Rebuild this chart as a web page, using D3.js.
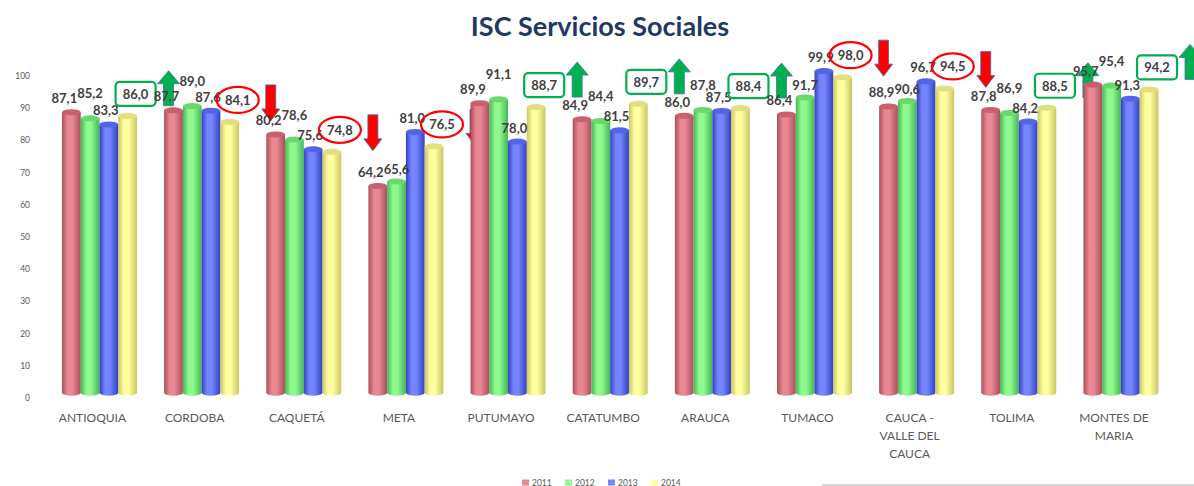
<!DOCTYPE html>
<html>
<head>
<meta charset="utf-8">
<script src="https://cdn.jsdelivr.net/npm/d3@7"></script>
<style>
  body { margin: 0; background: #fff; }
  svg { display: block; font-family: Lato, "Open Sans", sans-serif; }
</style>
</head>
<body>
<div id="grafico"></div>
<script>
const categorias = ["ANTIOQUIA", "CORDOBA", "CAQUETÁ", "META", "PUTUMAYO", "CATATUMBO", "ARAUCA", "TUMACO", "CAUCA - VALLE DEL CAUCA", "TOLIMA", "MONTES DE MARIA"];
const etiquetasCat = [["ANTIOQUIA"], ["CORDOBA"], ["CAQUETÁ"], ["META"], ["PUTUMAYO"], ["CATATUMBO"], ["ARAUCA"], ["TUMACO"], ["CAUCA -", "VALLE DEL", "CAUCA"], ["TOLIMA"], ["MONTES DE", "MARIA"]];
const anios = ["2011", "2012", "2013", "2014"];
const v2011 = [87.1, 87.7, 80.2, 64.2, 89.9, 84.9, 86.0, 86.4, 88.9, 87.8, 95.7];
const v2012 = [85.2, 89.0, 78.6, 65.6, 91.1, 84.4, 87.8, 91.7, 90.6, 86.9, 95.4];
const v2013 = [83.3, 87.6, 75.6, 81.0, 78.0, 81.5, 87.5, 99.9, 96.7, 84.2, 91.3];
const v2014 = [86.0, 84.1, 74.8, 76.5, 88.7, 89.7, 88.4, 98.0, 94.5, 88.5, 94.2];
const ticksY = [0, 10, 20, 30, 40, 50, 60, 70, 80, 90, 100];

const series = [v2011, v2012, v2013, v2014];
const colores = [
  { mid: "#e98793", edge: "#a8505b", top: "#c9606c" },
  { mid: "#8ef98e", edge: "#45b555", top: "#6ad86e" },
  { mid: "#7585ff", edge: "#3342c0", top: "#5464e8" },
  { mid: "#ffffa0", edge: "#c9c662", top: "#e2df80" }
];

const ancho = 1194, alto = 486;
const prof = 5; // desplazamiento 3D de las barras

const svg = d3.select("#grafico").append("svg")
  .attr("width", ancho).attr("height", alto);

// gradientes tipo cilindro
const defs = svg.append("defs");
colores.forEach((c, i) => {
  const g = defs.append("linearGradient").attr("id", "cil" + i)
    .attr("x1", "0%").attr("x2", "100%").attr("y1", "0%").attr("y2", "0%");
  g.append("stop").attr("offset", "0%").attr("stop-color", c.edge);
  g.append("stop").attr("offset", "30%").attr("stop-color", c.mid);
  g.append("stop").attr("offset", "55%").attr("stop-color", c.mid);
  g.append("stop").attr("offset", "100%").attr("stop-color", c.edge);
});

const xScale = d3.scaleBand()
  .domain(categorias)
  .range([48.4, 1172])
  .paddingInner(0.266)
  .paddingOuter(0.133);

const xSub = d3.scaleBand()
  .domain(anios)
  .range([0, xScale.bandwidth()]);

const yScale = d3.scaleLinear()
  .domain([0, 100])
  .range([397.7, 75.7]);

// titulo
svg.append("text")
  .attr("x", 600).attr("y", 36)
  .attr("text-anchor", "middle")
  .attr("font-size", 27).attr("font-weight", "bold")
  .attr("fill", "#1f3864")
  .text("ISC Servicios Sociales");

// eje Y (solo etiquetas)
const yAxis = d3.axisLeft(yScale).tickValues(ticksY).tickSize(0).tickPadding(0);
const gy = svg.append("g").attr("transform", "translate(30,0)").call(yAxis);
gy.select(".domain").remove();
gy.selectAll("text").attr("font-size", 8.5).attr("fill", "#595959")
  .attr("font-family", "Lato, sans-serif");

// barras
const grupos = svg.selectAll("g.grupo")
  .data(categorias)
  .enter().append("g")
  .attr("class", "grupo")
  .attr("transform", d => "translate(" + xScale(d) + "," + (-prof) + ")");

const datosBarras = (cat, ci) => anios.map((a, si) => ({ anio: a, si: si, v: series[si][ci] }));

grupos.each(function (cat, ci) {
  const g = d3.select(this);
  const w = xSub.bandwidth();
  const base = yScale(0);
  const barras = g.selectAll("g.barra").data(datosBarras(cat, ci)).enter()
    .append("g").attr("class", "barra");
  barras.append("ellipse")
    .attr("cx", d => xSub(d.anio) + w / 2).attr("cy", base)
    .attr("rx", w / 2).attr("ry", 3)
    .attr("fill", d => "url(#cil" + d.si + ")");
  barras.append("rect")
    .attr("x", d => xSub(d.anio))
    .attr("y", d => yScale(d.v))
    .attr("width", w)
    .attr("height", d => base - yScale(d.v))
    .attr("fill", d => "url(#cil" + d.si + ")");
  barras.append("ellipse")
    .attr("cx", d => xSub(d.anio) + w / 2).attr("cy", d => yScale(d.v))
    .attr("rx", w / 2).attr("ry", 3)
    .attr("fill", d => colores[d.si].top);
});

const fmt = v => d3.format(".1f")(v).replace(".", ",");

// etiquetas de datos (2011-2013); las de 2012 suben salvo que la de 2013 quede mas alta
const dxEtiqueta = [-7, 0, -3];
grupos.each(function (cat, ci) {
  const g = d3.select(this);
  const dyDe = d => {
    if (d.si !== 1) return -9;
    return (v2013[ci] - v2012[ci] > 4) ? -7 : -20;
  };
  g.selectAll("text.val").data(datosBarras(cat, ci).filter(d => d.si < 3)).enter()
    .append("text").attr("class", "val")
    .attr("x", d => xSub(d.anio) + xSub.bandwidth() / 2 + dxEtiqueta[d.si])
    .attr("y", d => yScale(d.v) + dyDe(d))
    .attr("text-anchor", "middle")
    .attr("font-size", 13).attr("font-weight", "bold")
    .attr("fill", "#404040")
    .text(d => fmt(d.v));
});

// anotaciones 2014: sube (recuadro verde + flecha arriba) o baja (elipse roja + flecha abajo)
grupos.each(function (cat, ci) {
  const g = d3.select(this);
  const v = v2014[ci];
  const sube = v > v2013[ci];
  const cx = xSub("2014") + xSub.bandwidth() / 2 + 8;
  const cy = yScale(v) - 22;
  if (sube) {
    g.append("rect")
      .attr("x", cx - 20).attr("y", cy - 12).attr("width", 40).attr("height", 24)
      .attr("rx", 4).attr("fill", "none")
      .attr("stroke", "#00b050").attr("stroke-width", 2.2);
  } else {
    g.append("ellipse")
      .attr("cx", cx).attr("cy", cy).attr("rx", 21).attr("ry", 13)
      .attr("fill", "none").attr("stroke", "#ff0000").attr("stroke-width", 2.2);
  }
  g.append("text")
    .attr("x", cx).attr("y", cy + 5)
    .attr("text-anchor", "middle")
    .attr("font-size", 13).attr("font-weight", "bold")
    .attr("fill", "#404040")
    .text(fmt(v));

  const ax = cx + 33;
  if (sube) {
    const yb = cy + 12, yt = yb - 35;
    g.append("path")
      .attr("d", `M${ax - 5},${yb} L${ax - 5},${yt + 13} L${ax - 11},${yt + 13} L${ax},${yt} L${ax + 11},${yt + 13} L${ax + 5},${yt + 13} L${ax + 5},${yb} Z`)
      .attr("fill", "#00b050").attr("stroke", "#41719c").attr("stroke-width", 0.8);
  } else {
    const yt = cy - 15, yb = cy + 21;
    g.append("path")
      .attr("d", `M${ax - 5},${yt} L${ax + 5},${yt} L${ax + 5},${yb - 12} L${ax + 9},${yb - 12} L${ax},${yb} L${ax - 9},${yb - 12} L${ax - 5},${yb - 12} Z`)
      .attr("fill", "#ff0000").attr("stroke", "#41719c").attr("stroke-width", 0.8);
  }
});

// etiquetas de categorias
const xAxisG = svg.append("g");
xAxisG.selectAll("text.cat")
  .data(categorias)
  .enter().append("text").attr("class", "cat")
  .attr("x", d => xScale(d) + xScale.bandwidth() / 2 - 7)
  .attr("y", 422)
  .attr("text-anchor", "middle")
  .attr("font-size", 12).attr("fill", "#595959")
  .each(function (d, i) {
    const t = d3.select(this);
    etiquetasCat[i].forEach((linea, k) => {
      t.append("tspan").attr("x", xScale(d) + xScale.bandwidth() / 2 - 7)
        .attr("dy", k === 0 ? 0 : 18).text(linea);
    });
  });

// leyenda
const leyenda = svg.append("g").attr("transform", "translate(522,478)");
anios.forEach((a, i) => {
  const it = leyenda.append("g").attr("transform", "translate(" + (i * 43) + ",0)");
  it.append("rect").attr("width", 7).attr("height", 6).attr("y", 1.5).attr("fill", colores[i].mid);
  it.append("text").attr("x", 10).attr("y", 7.5).attr("font-size", 8.5).attr("fill", "#595959").text(a);
});

// linea gris inferior (borde del marco)
svg.append("line").attr("x1", 822).attr("x2", ancho).attr("y1", 485).attr("y2", 485)
  .attr("stroke", "#c8c8c8").attr("stroke-width", 1.5);
</script>
</body>
</html>
